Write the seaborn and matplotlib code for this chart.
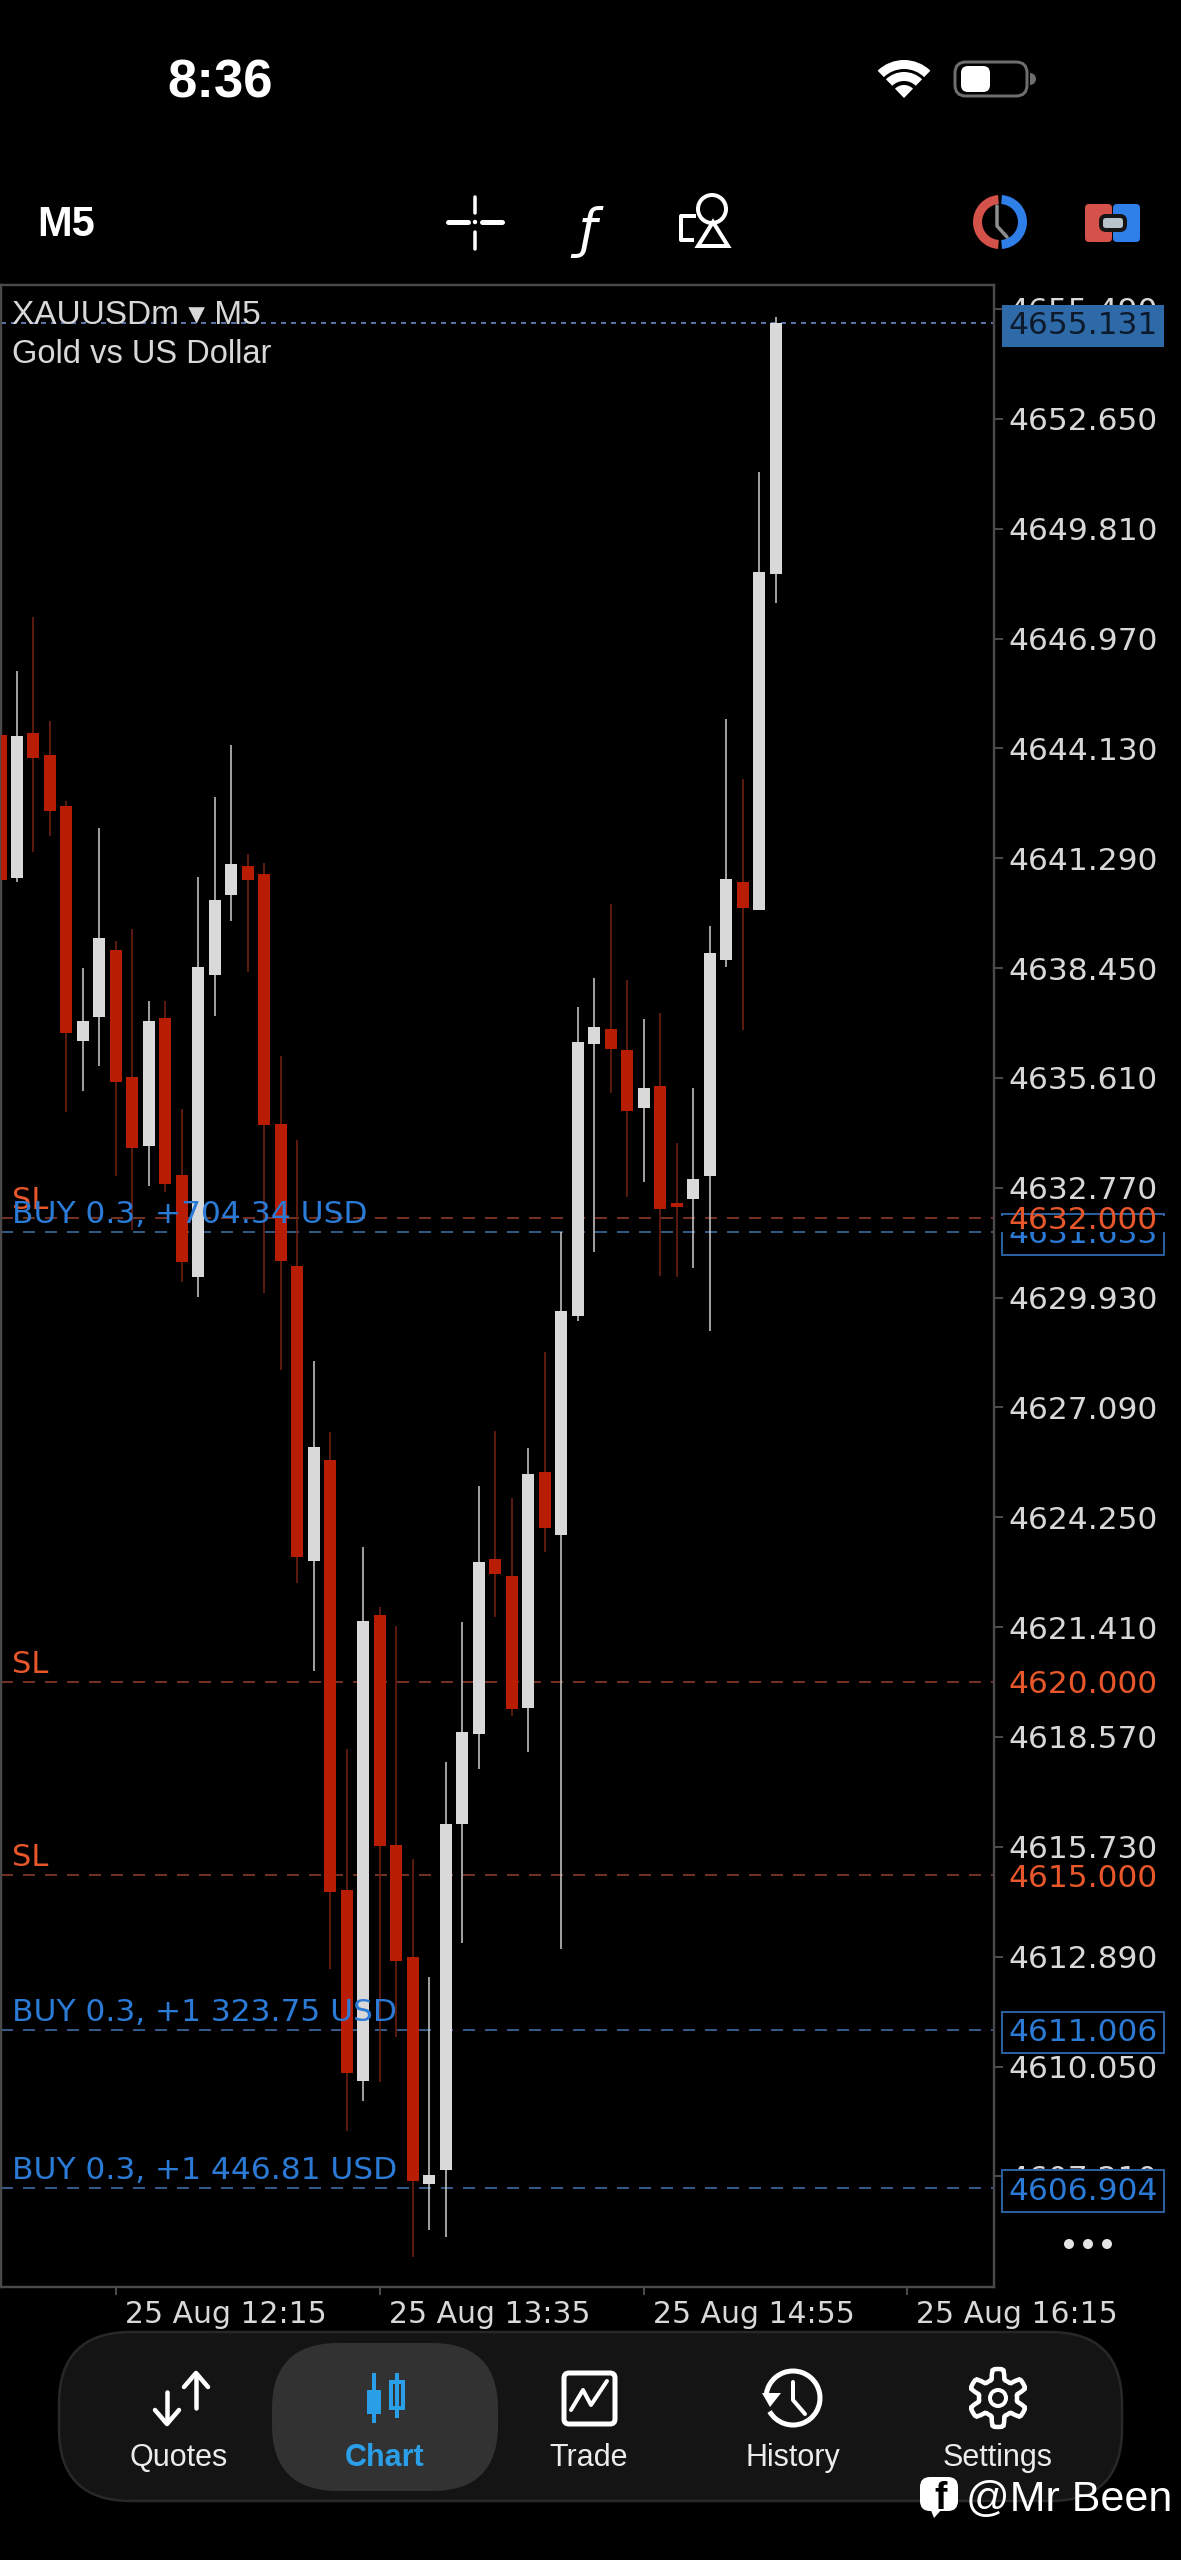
#!/usr/bin/env python3
import numpy as np
import pandas as pd
import matplotlib
matplotlib.use("Agg")
import matplotlib.pyplot as plt
import seaborn as sns
from matplotlib.patches import Circle, FancyBboxPatch, Polygon, Rectangle, Wedge, Arc

# --- candles, M5 ---
opens = [4644.47, 4640.79, 4644.54, 4643.95, 4642.64, 4636.56, 4637.18, 4638.91, 4635.64, 4633.86,
         4637.15, 4633.10, 4630.47, 4638.28, 4640.34, 4641.08, 4640.87, 4634.43, 4630.76, 4623.13,
         4625.72, 4614.62, 4609.68, 4621.72, 4615.78, 4612.89, 4607.01, 4607.37, 4616.31, 4618.64,
         4623.16, 4622.73, 4619.31, 4625.41, 4623.79, 4629.45, 4636.49, 4636.87, 4636.32, 4634.84,
         4635.40, 4632.37, 4632.48, 4633.07, 4638.66, 4640.68, 4639.94, 4648.64]
closes = [4640.72, 4644.44, 4643.87, 4642.51, 4636.77, 4637.08, 4639.22, 4635.50, 4633.80, 4637.08,
          4632.88, 4630.84, 4638.48, 4640.21, 4641.13, 4640.72, 4634.40, 4630.88, 4623.22, 4626.06,
          4614.56, 4609.87, 4621.56, 4615.74, 4612.78, 4607.10, 4607.25, 4616.32, 4618.70, 4623.09,
          4622.78, 4619.29, 4625.37, 4623.97, 4629.58, 4636.53, 4636.92, 4636.36, 4634.75, 4635.35,
          4632.22, 4632.26, 4633.00, 4638.83, 4640.75, 4639.99, 4648.70, 4655.131]
highs = [4644.60, 4646.12, 4647.53, 4644.85, 4642.77, 4638.44, 4642.08, 4639.14, 4639.46, 4637.60,
         4637.61, 4634.81, 4640.81, 4642.86, 4644.22, 4641.39, 4641.16, 4636.18, 4634.00, 4628.28,
         4626.46, 4618.27, 4623.49, 4621.93, 4621.44, 4615.41, 4612.37, 4617.92, 4621.55, 4625.06,
         4626.48, 4624.74, 4626.03, 4628.52, 4631.63, 4637.45, 4638.19, 4640.11, 4638.14, 4637.13,
         4637.28, 4633.94, 4635.34, 4639.53, 4644.89, 4643.34, 4651.27, 4655.29]
lows = [4640.60, 4640.68, 4641.45, 4641.87, 4634.74, 4635.27, 4635.93, 4633.08, 4631.67, 4632.82,
        4632.65, 4630.34, 4629.94, 4637.21, 4639.67, 4638.35, 4630.06, 4628.05, 4622.56, 4620.28,
        4612.57, 4608.38, 4609.16, 4609.66, 4610.82, 4605.13, 4605.83, 4605.65, 4613.24, 4617.74,
        4621.68, 4619.10, 4618.19, 4623.36, 4613.09, 4629.33, 4631.12, 4635.21, 4632.52, 4632.93,
        4630.50, 4630.45, 4630.70, 4629.07, 4638.47, 4636.85, 4639.94, 4647.89]

y_ticks = [4655.49, 4652.65, 4649.81, 4646.97, 4644.13, 4641.29, 4638.45, 4635.61, 4632.77,
           4629.93, 4627.09, 4624.25, 4621.41, 4618.57, 4615.73, 4612.89, 4610.05, 4607.21]
x_tick_pos = [7, 23, 39, 55]
x_tick_labels = ["25 Aug 12:15", "25 Aug 13:35", "25 Aug 14:55", "25 Aug 16:15"]

bid_price = 4655.131
sl_levels = [4632.0, 4620.0, 4615.0]
buy_levels = [4631.633, 4611.006, 4606.904]
buy_labels = ["BUY 0.3, +704.34 USD", "BUY 0.3, +1 323.75 USD", "BUY 0.3, +1 446.81 USD"]

nav_labels = ["Quotes", "Chart", "Trade", "History", "Settings"]

# --- colours ---
BG = "#000000"
RED = "#b81c02"
WHITE = "#d9d9d9"
RED_WICK = "#70200f"
WHITE_WICK = "#c4c4c4"
FRAME = "#4a4a4a"
TEXT = "#d8d8d8"
BLUE = "#2b7bd6"
BLUE_LINE = "#3f6fa8"
ORANGE = "#e8572a"
ORANGE_LINE = "#8e3c28"

W, H = 1181, 2560
FRAME_L, FRAME_R, FRAME_T, FRAME_B = 0.5, 994, 285, 2287
CANDLE_STEP = 16.49

sns.set_theme(style="dark", rc={"axes.facecolor": BG, "figure.facecolor": BG, "savefig.facecolor": BG})
plt.rcParams["font.family"] = ["DejaVu Sans"]
UI_FONT = ["Liberation Sans", "DejaVu Sans"]

df = pd.DataFrame({"idx": np.arange(len(opens)), "open": opens, "close": closes, "high": highs, "low": lows})
df["up"] = df["close"] >= df["open"]
df["bottom"] = df[["open", "close"]].min(axis=1)
df["body"] = (df["close"] - df["open"]).abs()
wicks = df.melt(id_vars=["idx", "up"], value_vars=["high", "low"], value_name="price").sort_values(["idx", "price"])

fig = plt.figure(figsize=(W / 100, H / 100), dpi=100)
ax = fig.add_axes([FRAME_L / W, 1 - FRAME_B / H, (FRAME_R - FRAME_L) / W, (FRAME_B - FRAME_T) / H])


def px(v):
    return v * 0.72


# level lines go under the candles
dash = (0, (px(12) / px(1.6), px(10) / px(1.6)))
for lvl in sl_levels:
    ax.axhline(lvl, color=ORANGE_LINE, lw=px(1.6), ls=dash, zorder=1)
for lvl in buy_levels:
    ax.axhline(lvl, color=BLUE_LINE, lw=px(1.6), ls=dash, zorder=1)
ax.axhline(bid_price, color="#5872a8", lw=px(2), ls=(0, (2.5, 2.5)), zorder=1)

for is_up, wick_color in [(True, WHITE_WICK), (False, RED_WICK)]:
    sns.lineplot(data=wicks[wicks["up"] == is_up], x="idx", y="price", units="idx", estimator=None,
                 sort=False, color=wick_color, lw=px(1.6), solid_capstyle="butt", zorder=2,
                 legend=False, ax=ax)

for is_up, body_color in [(True, WHITE), (False, RED)]:
    part = df[df["up"] == is_up]
    sns.barplot(data=part, x="idx", y="body", bottom=part["bottom"].to_numpy(), native_scale=True,
                color=body_color, saturation=1, width=12 / CANDLE_STEP, errorbar=None, linewidth=0,
                zorder=3, ax=ax)

ax.set_xlim(0, (FRAME_R - FRAME_L) / CANDLE_STEP)
ax.set_ylim(4604.35, 4656.11)
ax.set_xlabel("")
ax.set_ylabel("")
ax.grid(False)
for s in ax.spines.values():
    s.set_color(FRAME)
    s.set_linewidth(px(2.4))

ax.yaxis.tick_right()
ax.set_yticks(y_ticks)
ax.set_yticklabels([f"{t:.3f}" for t in y_ticks])
ax.tick_params(axis="y", length=px(9), width=px(2), color=FRAME, pad=px(5), labelsize=22.5,
               labelcolor=TEXT, right=True, left=False)
ax.set_xticks(x_tick_pos)
ax.set_xticklabels(x_tick_labels, ha="left")
ax.tick_params(axis="x", length=px(8), width=px(2), color=FRAME, pad=px(5), labelsize=21.5,
               labelcolor=TEXT, bottom=True)
for lab in ax.get_xticklabels():
    lab.set_transform(lab.get_transform() + matplotlib.transforms.ScaledTranslation(9 / 100, 0, fig.dpi_scale_trans))

# texts sitting on the level lines
lab_tr = ax.get_yaxis_transform()
for lvl in sl_levels:
    ax.annotate("SL", xy=(0, lvl), xycoords=lab_tr, xytext=(px(12), px(9)), textcoords="offset points",
                color=ORANGE, fontsize=22, va="baseline", zorder=6)
for lvl, txt in zip(buy_levels, buy_labels):
    ax.annotate(txt, xy=(0, lvl), xycoords=lab_tr, xytext=(px(12), px(9)), textcoords="offset points",
                color=BLUE, fontsize=22.5, va="baseline", zorder=6)

# price tags on the right scale
tag_x = 1 + 14 / (FRAME_R - FRAME_L)
tag_kw = dict(transform=lab_tr, fontsize=22.5, va="center_baseline", ha="left", clip_on=False)
for lvl in buy_levels:
    ax.text(tag_x, lvl, f"{lvl:.3f}", color=BLUE, zorder=10,
            bbox=dict(boxstyle="square,pad=0.2", fc=BG, ec="#2a5f9e", lw=px(2)), **tag_kw)
# the 4632 tag hides most of the buy tag just below it
ax.add_patch(Rectangle((1.004, buy_levels[0]), 0.178, sl_levels[0] - buy_levels[0] + 0.05, transform=lab_tr,
                       fc=BG, ec="none", clip_on=False, zorder=10.5))
for lvl in sl_levels:
    ax.text(tag_x, lvl, f"{lvl:.3f}", color=ORANGE, zorder=11, **tag_kw)
ax.text(tag_x, bid_price, f"{bid_price:.3f}", color="#0d1a2c", zorder=10,
        bbox=dict(boxstyle="square,pad=0.2", fc="#2e6aa8", ec="none"), **tag_kw)

# --- phone chrome, drawn in picture pixels ---
ui = fig.add_axes([0, 0, 1, 1], zorder=20)
ui.set_xlim(0, W)
ui.set_ylim(H, 0)
ui.axis("off")
ui.patch.set_alpha(0)


def seg(xs, ys, color="white", lw=4.0, cap="round"):
    ui.plot(xs, ys, color=color, lw=px(lw), solid_capstyle=cap, solid_joinstyle="round")


ui.text(220, 98, "8:36", color="white", fontsize=38, fontweight="bold", family=UI_FONT, ha="center", va="baseline")
ui.text(37, 236, "M5", color="white", fontsize=30, fontweight="bold", family=UI_FONT, va="baseline")
ui.text(12, 324, "XAUUSDm ▾ M5", color=TEXT, fontsize=24, family=UI_FONT, va="baseline")
ui.text(12, 363, "Gold vs US Dollar", color=TEXT, fontsize=23.5, family=UI_FONT, va="baseline")

# wifi + battery
for r, w in [(38, 9), (26, 9), (13, 13)]:
    ui.add_patch(Wedge((904, 98), r, 226, 314, width=w, fc="white", ec="none"))
ui.add_patch(FancyBboxPatch((955, 62), 72, 34, boxstyle="round,pad=0,rounding_size=11", fc="none", ec="#6e6e6e", lw=px(3)))
ui.add_patch(FancyBboxPatch((961, 66), 29, 26, boxstyle="round,pad=0,rounding_size=7", fc="white", ec="none"))
ui.add_patch(Wedge((1030, 79), 6, -90, 90, fc="#6e6e6e", ec="none"))

# toolbar icons
seg([448, 468], [222, 222], lw=5)
seg([482, 502], [222, 222], lw=5)
seg([475, 475], [197, 213], lw=3.5)
seg([475, 475], [232, 249], lw=3.5)
ui.add_patch(Circle((475, 222), 2.2, fc="white", ec="none"))
ui.text(588, 247, "ƒ", color="white", fontsize=38, family="DejaVu Sans", style="italic", ha="center", va="baseline")
ui.add_patch(Circle((712, 209), 14, fc="none", ec="white", lw=px(4)))
ui.add_patch(Polygon([[713, 222], [698, 246], [728, 246]], closed=True, fc=BG, ec="white", lw=px(4)))
seg([696, 681, 681, 694], [216, 216, 240, 240], lw=4, cap="butt")

ui.add_patch(Wedge((1000, 222), 27, 94, 266, width=9, fc="#d4524a", ec="none"))
ui.add_patch(Wedge((1000, 222), 27, -86, 86, width=9, fc="#2f7fe8", ec="none"))
seg([997, 997, 1007], [206, 226, 237], color="#8d8d8d", lw=3.5)
ui.add_patch(FancyBboxPatch((1085, 204), 27, 38, boxstyle="round,pad=0,rounding_size=4", fc="#d4524a", ec="none"))
ui.add_patch(FancyBboxPatch((1113, 204), 27, 38, boxstyle="round,pad=0,rounding_size=4", fc="#2f7fe8", ec="none"))
ui.add_patch(FancyBboxPatch((1101, 216), 24, 14, boxstyle="round,pad=0,rounding_size=5", fc="#b9c3cc", ec="#151515", lw=px(4)))

# three dots under the scale
for dx in [1069, 1088, 1107]:
    ui.add_patch(Circle((dx, 2244), 5, fc="#e4e4e4", ec="none"))

# bottom bar
ui.add_patch(FancyBboxPatch((59, 2332), 1063, 169, boxstyle="round,pad=0,rounding_size=72", fc="#141414", ec="#282828", lw=px(2.5)))
ui.add_patch(FancyBboxPatch((272, 2343), 226, 148, boxstyle="round,pad=0,rounding_size=66", fc="#323232", ec="none"))
for name, cx in zip(nav_labels, [179, 385, 589, 793, 998]):
    ui.text(cx, 2466, name, color="#2a9fe8" if name == "Chart" else "#ececec", fontsize=22, family=UI_FONT,
            fontweight="bold" if name == "Chart" else "normal", ha="center", va="baseline")

# quotes arrows
seg([167, 167], [2392, 2420], lw=4.5)
seg([155, 167, 179], [2410, 2424, 2410], lw=4.5)
seg([196, 196], [2376, 2408], lw=4.5)
seg([184, 196, 208], [2387, 2373, 2387], lw=4.5)
# chart icon
seg([374, 374], [2373, 2423], color="#2a9fe8", lw=4, cap="butt")
ui.add_patch(Rectangle((367, 2390), 14, 24, fc="#2a9fe8", ec="none"))
seg([397, 397], [2373, 2418], color="#2a9fe8", lw=4, cap="butt")
ui.add_patch(Rectangle((391, 2382), 12, 26, fc="#323232", ec="#2a9fe8", lw=px(4)))
# trade icon
ui.add_patch(FancyBboxPatch((564, 2373), 51, 51, boxstyle="round,pad=0,rounding_size=5", fc="none", ec="white", lw=px(5)))
seg([571, 583, 591, 607], [2410, 2390, 2405, 2381], lw=4)
# history icon
ui.add_patch(Arc((793, 2398), 54, 54, theta1=-170, theta2=150, color="white", lw=px(5)))
ui.add_patch(Polygon([[762, 2393], [781, 2393], [770, 2407]], closed=True, fc="white", ec="none"))
seg([793, 793, 805], [2382, 2400, 2414], lw=4)
# settings gear
ang = np.linspace(0, 2 * np.pi, 97)
rad = 24 + 5 * np.clip(2.2 * np.cos(6 * ang), -1, 1)
ui.add_patch(Polygon(np.column_stack([998 + rad * np.sin(ang), 2398 + rad * np.cos(ang)]), closed=True,
                     fc="#141414", ec="white", lw=px(4.5)))
ui.add_patch(Circle((998, 2398), 8, fc="none", ec="white", lw=px(4)))

# watermark
ui.add_patch(FancyBboxPatch((920, 2477), 38, 34, boxstyle="round,pad=0,rounding_size=10", fc="white", ec="none"))
ui.add_patch(Polygon([[930, 2508], [943, 2508], [934, 2518]], closed=True, fc="white", ec="none"))
ui.text(941, 2509, "f", color="black", fontsize=27, fontweight="bold", family=UI_FONT, ha="center", va="baseline")
ui.text(966, 2511, "@Mr Been", color="white", fontsize=31, family=UI_FONT, va="baseline")

fig.savefig("out.png", dpi=100)
